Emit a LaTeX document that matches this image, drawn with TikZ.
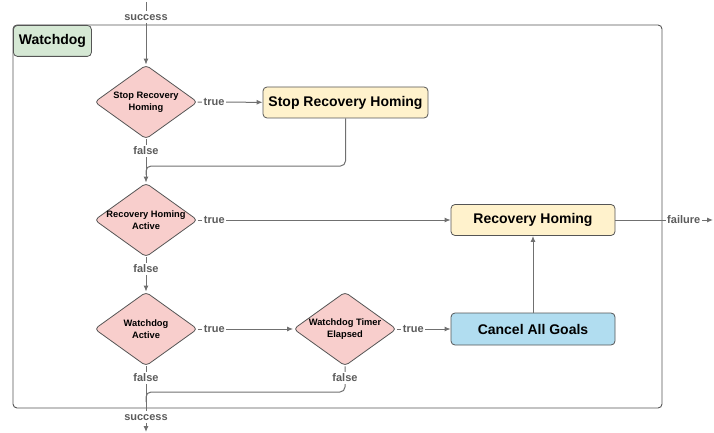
\documentclass[tikz,border=0pt]{standalone}
\usepackage{fontspec}
\setmainfont{Liberation Sans}
\usetikzlibrary{arrows.meta,positioning,shapes.geometric}

\definecolor{condfill}{HTML}{F8CECC}
\definecolor{actfill}{HTML}{FFF2CC}
\definecolor{cancelfill}{HTML}{B1DDF0}
\definecolor{titlefill}{HTML}{D5E8D4}
\definecolor{linegray}{HTML}{707070}
\definecolor{bordergray}{HTML}{555555}
\definecolor{labelgray}{HTML}{5C5C5C}

\begin{document}
\begin{tikzpicture}[x=1pt, y=-1pt, >={Latex[length=6pt,width=5pt]},
  cond node/.style={diamond,draw=bordergray,line width=0.8pt,fill=condfill,rounded corners=4pt,minimum width=103pt,minimum height=74pt,inner sep=0pt},
  cond text/.style={align=center,font=\fontsize{9.3}{12}\selectfont\bfseries},
  act node/.style={rectangle,draw=bordergray,line width=0.8pt,fill=actfill,rounded corners=4pt,minimum width=164pt,minimum height=31pt,font=\fontsize{14}{16}\selectfont\bfseries},
  lbl/.style={fill=white,inner sep=1.5pt,text=labelgray,text height=8pt,text depth=1pt,font=\fontsize{11}{13}\selectfont\bfseries}]
\useasboundingbox (0,0) rectangle (714,433);
% watchdog frame
\node[draw=bordergray,line width=0.9pt,rounded corners=4pt,minimum width=649pt,minimum height=383pt,inner sep=0pt] (frame) at (337.5,216.5) {};
\node[draw=bordergray,line width=0.8pt,fill=titlefill,rounded corners=4pt,minimum width=78pt,minimum height=31pt,anchor=north west,font=\fontsize{14}{16}\selectfont\bfseries] (title) at (13,25) {Watchdog};
\begin{scope}
\node[cond node,label={[cond text]center:Stop Recovery\\Homing}] (stopq) at (146,102) {};
\node[cond node,label={[cond text]center:Recovery Homing\\Active}] (recq) at (146,220) {};
\node[cond node,label={[cond text]center:Watchdog\\Active}] (wdq) at (146,329) {};
\node[cond node,label={[cond text]center:Watchdog Timer\\Elapsed}] (timerq) at (345,329) {};
\node[act node,minimum width=165pt] (stopact) at (345.5,102.5) {Stop Recovery Homing};
\node[act node] (rechome) at (533,220) {Recovery Homing};
\node[act node,fill=cancelfill,minimum height=32pt] (cancel) at (533,329) {Cancel All Goals};
\coordinate (start) at (146,2);
\coordinate (done) at (146,432);
\coordinate (fail) at (713,220);
\coordinate (join1) at (146,175);
\coordinate (join2) at (146,402);
\end{scope}
\begin{scope}[every edge/.style={draw=linegray,line width=1pt}]
\draw (start) edge[->] node[lbl,pos=0.24]{success} (stopq);
\draw (stopq) edge[->] node[lbl,pos=0,anchor=west,xshift=4pt]{true} (stopact);
\draw (stopq) edge[->] node[lbl,pos=0,anchor=north,yshift=-5pt]{false} (recq);
\draw (recq) edge[->] node[lbl,pos=0,anchor=west,xshift=4pt]{true} (rechome);
\draw (recq) edge[->] node[lbl,pos=0,anchor=north,yshift=-5pt]{false} (wdq);
\draw (wdq) edge[->] node[lbl,pos=0,anchor=west,xshift=4pt]{true} (timerq);
\draw (timerq) edge[->] node[lbl,pos=0,anchor=west,xshift=4pt]{true} (cancel);
\draw (cancel) edge[->] (rechome);
\draw (rechome) edge[->] node[lbl,pos=0.70]{failure} (fail);
\draw (wdq) edge[->] node[lbl,pos=0,anchor=north,yshift=-5pt]{false} node[lbl,pos=0.77]{success} (done);
\end{scope}
\draw[draw=linegray,line width=1pt,rounded corners=5pt] (stopact.south) -- (345.5,166) -- (146,166) -- (join1);
\draw[draw=linegray,line width=1pt,rounded corners=5pt] (timerq.south) -- (345,392) -- (146,392) -- (join2);
\node[lbl,anchor=north,yshift=-5pt] (tfalse) at (timerq.south) {false};
\end{tikzpicture}
\end{document}
